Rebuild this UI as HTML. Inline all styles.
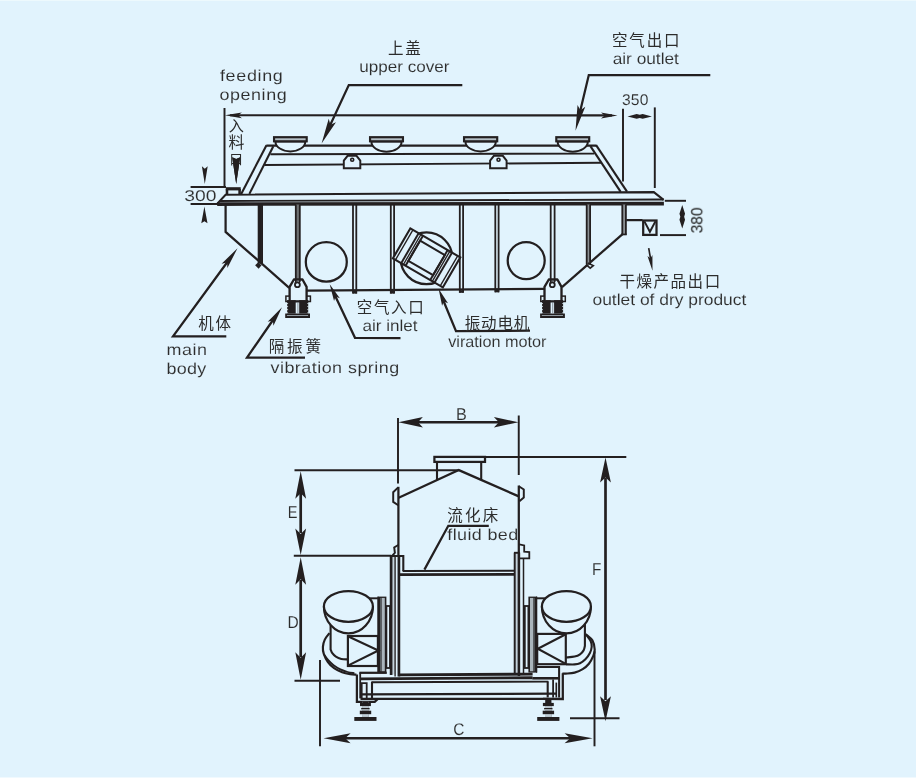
<!DOCTYPE html>
<html lang="en"><head><meta charset="utf-8"><title>Fluid bed dryer diagram</title>
<style>
html,body{margin:0;padding:0;background:#ffffff;}
body{width:922px;height:784px;overflow:hidden;font-family:"Liberation Sans",sans-serif;}
svg{display:block;}
</style></head><body>
<svg width="922" height="784" viewBox="0 0 922 784">
<rect x="0" y="0" width="916" height="777.5" fill="#e1f3fd"/>
<rect x="0" y="0" width="916" height="1" fill="#edf9fd"/>
<g fill="none" stroke-linecap="butt" stroke-linejoin="miter">
<path d="M230 115.3L612 115.4" stroke="#231f20" stroke-width="2.1"/>
<path d="M224.9 115.3L241.9 112.4L238.16 115.3L241.9 118.2 Z" fill="#231f20"/>
<path d="M617.5 115.5L601 118.4L604.63 115.5L601 112.6 Z" fill="#231f20"/>
<path d="M224.5 108L224.5 186.4" stroke="#231f20" stroke-width="1.95"/>
<path d="M623 108.7L623 181.6" stroke="#231f20" stroke-width="1.95"/>
<path d="M654.8 107.4L654.8 188" stroke="#231f20" stroke-width="1.95"/>
<path d="M627.5 116.4L636.7 114L639.7 114.8L642.7 114L651.9 116.4L642.7 118.8L639.7 118L636.7 118.8 Z" fill="#231f20"/>
<path d="M462.3 85.1L348.8 85.1L326.5 133" fill="none" stroke="#231f20" stroke-width="2.25"/>
<path d="M321.6 143.6L328.72 118.79L330.42 124.64L335.98 122.16 Z" fill="#231f20"/>
<path d="M710.3 75L588.8 75L579.5 114" fill="none" stroke="#231f20" stroke-width="2.25"/>
<path d="M575.5 130.7L577.53 104.97L580.36 110.36L585.31 106.83 Z" fill="#231f20"/>
<path d="M190.6 187L226 187" stroke="#231f20" stroke-width="1.95"/>
<path d="M190.6 204L218 204" stroke="#231f20" stroke-width="1.95"/>
<path d="M204.8 183.9L201.9 166.2L204.8 168.86L207.7 166.2 Z" fill="#231f20"/>
<path d="M204.4 206.4L207.5 223.2L204.4 221.18L201.3 223.2 Z" fill="#231f20"/>
<path d="M266.3 145.6L596.4 145.6" stroke="#231f20" stroke-width="2.1"/>
<path d="M270.4 154.3L594.2 153.6" stroke="#231f20" stroke-width="1.95"/>
<path d="M264.3 165L601 162.8" stroke="#231f20" stroke-width="1.95"/>
<path d="M266.5 145.2L241.2 193.9" stroke="#231f20" stroke-width="2.1"/>
<path d="M273.3 146.2L249.4 193.9" stroke="#231f20" stroke-width="2.1"/>
<path d="M596.1 145.2L627 191.7" stroke="#231f20" stroke-width="2.1"/>
<path d="M590.4 146.2L620.7 191.9" stroke="#231f20" stroke-width="2.1"/>
<path d="M275.35 141.5A15.03 10.2 0 0 0 305.4 141.5Z" fill="#e1f3fd" stroke="#231f20" stroke-width="1.95"/>
<rect x="274.05" y="137.2" width="32.65" height="4.1" fill="#b4bfc6" stroke="#231f20" stroke-width="2.17"/>
<path d="M371.35 141.5A15.15 10.2 0 0 0 401.65 141.5Z" fill="#e1f3fd" stroke="#231f20" stroke-width="1.95"/>
<rect x="370.05" y="137.2" width="32.9" height="4.1" fill="#b4bfc6" stroke="#231f20" stroke-width="2.17"/>
<path d="M465.35 141.5A15.28 10.2 0 0 0 495.9 141.5Z" fill="#e1f3fd" stroke="#231f20" stroke-width="1.95"/>
<rect x="464.05" y="137.2" width="33.15" height="4.1" fill="#b4bfc6" stroke="#231f20" stroke-width="2.17"/>
<path d="M557.6 141.5A15.15 10.2 0 0 0 587.9 141.5Z" fill="#e1f3fd" stroke="#231f20" stroke-width="1.95"/>
<rect x="556.3" y="137.2" width="32.9" height="4.1" fill="#b4bfc6" stroke="#231f20" stroke-width="2.17"/>
<path d="M343.8 168.3L343.8 160.6L347.6 155.8L356.5 155.8L360.3 160.6L360.3 168.3Z" fill="#e1f3fd" stroke="#231f20" stroke-width="1.95"/>
<circle cx="352.2" cy="159.7" r="1.5" fill="none" stroke="#231f20" stroke-width="1.65"/>
<path d="M490.1 168.3L490.1 160.6L493.9 155.8L502.8 155.8L506.6 160.6L506.6 168.3Z" fill="#e1f3fd" stroke="#231f20" stroke-width="1.95"/>
<circle cx="498.5" cy="159.7" r="1.5" fill="none" stroke="#231f20" stroke-width="1.65"/>
<rect x="225.8" y="187.2" width="14.9" height="3.2" fill="#231f20"/>
<path d="M227 189L227 194.4" stroke="#231f20" stroke-width="2.55"/>
<path d="M239.6 189L239.6 194.4" stroke="#231f20" stroke-width="2.55"/>
<path d="M236.2 183.9L232.2 157.3L236.2 158.9L240.2 157.3 Z" fill="#231f20"/>
<path d="M217.3 203.6L225.6 194.7L653.8 192.1L663.6 199.8" fill="none" stroke="#231f20" stroke-width="2.1"/>
<path d="M219.6 201L663.6 199.5" stroke="#231f20" stroke-width="1.8"/>
<path d="M217.2 204.1L663.9 203.6" stroke="#231f20" stroke-width="3.63"/>
<path d="M225.6 205L225.6 231.9L289.2 287.8" fill="none" stroke="#231f20" stroke-width="2.25"/>
<path d="M306 290.7L545 288.9" stroke="#231f20" stroke-width="2.25"/>
<path d="M562 287.2L624 232.8" fill="none" stroke="#231f20" stroke-width="2.25"/>
<rect x="258.8" y="204.5" width="3.1" height="59.1" fill="#231f20"/>
<path d="M258.6 204.5L258.6 263.6" stroke="#231f20" stroke-width="1.8"/>
<path d="M262.1 204.5L262.1 263.6" stroke="#231f20" stroke-width="1.8"/>
<rect x="296" y="204.5" width="3.6" height="77.5" fill="#6e7173"/>
<path d="M295.8 204.5L295.8 282" stroke="#231f20" stroke-width="1.8"/>
<path d="M299.8 204.5L299.8 282" stroke="#231f20" stroke-width="1.8"/>
<path d="M353 204.5L353 293.6" stroke="#231f20" stroke-width="1.8"/>
<path d="M356.3 204.5L356.3 293.6" stroke="#231f20" stroke-width="1.8"/>
<rect x="352.6" y="291" width="4.1" height="2.6" fill="#231f20"/>
<path d="M390.8 204.5L390.8 293.6" stroke="#231f20" stroke-width="1.8"/>
<path d="M394.1 204.5L394.1 293.6" stroke="#231f20" stroke-width="1.8"/>
<rect x="390.4" y="291" width="4.1" height="2.6" fill="#231f20"/>
<path d="M459.8 204.5L459.8 292.8" stroke="#231f20" stroke-width="1.8"/>
<path d="M463.1 204.5L463.1 292.8" stroke="#231f20" stroke-width="1.8"/>
<rect x="459.4" y="290.2" width="4.1" height="2.6" fill="#231f20"/>
<path d="M495.3 204.5L495.3 292.3" stroke="#231f20" stroke-width="1.8"/>
<path d="M498.6 204.5L498.6 292.3" stroke="#231f20" stroke-width="1.8"/>
<rect x="494.9" y="289.7" width="4.1" height="2.6" fill="#231f20"/>
<path d="M550.7 204.5L550.7 282" stroke="#231f20" stroke-width="1.8"/>
<path d="M554.6 204.5L554.6 282" stroke="#231f20" stroke-width="1.8"/>
<rect x="586.9" y="204.5" width="3" height="60" fill="#8b9094"/>
<path d="M586.7 204.5L586.7 264.5" stroke="#231f20" stroke-width="1.8"/>
<path d="M590.1 204.5L590.1 264.5" stroke="#231f20" stroke-width="1.8"/>
<rect x="622.5" y="204.5" width="3.2" height="30.3" fill="#8b9094"/>
<path d="M622.3 204.5L622.3 234.8" stroke="#231f20" stroke-width="1.8"/>
<path d="M625.9 204.5L625.9 234.8" stroke="#231f20" stroke-width="1.8"/>
<rect x="621.5" y="233.6" width="5.2" height="1.7" fill="#231f20"/>
<path d="M255.1 265.3L258 262.5L261.6 265.2L258.6 268.7Z" fill="#231f20"/>
<path d="M587.8 263L593.3 265.6L590.2 268.2L586.2 264.6" fill="none" stroke="#231f20" stroke-width="1.65"/>
<ellipse cx="326.3" cy="261.9" rx="20.5" ry="19.7" fill="none" stroke="#231f20" stroke-width="2.25"/>
<circle cx="526.2" cy="260.6" r="18.5" fill="none" stroke="#231f20" stroke-width="2.25"/>
<circle cx="426.5" cy="258.3" r="25.9" fill="none" stroke="#231f20" stroke-width="2.25"/>
<g transform="translate(426.6 257.9) rotate(30.2)">
<rect x="-28.9" y="-17.35" width="57.8" height="34.7" fill="#e1f3fd" stroke="#231f20" stroke-width="2.1"/>
<path d="M-25.9 -17.35L-25.9 17.35" stroke="#231f20" stroke-width="1.35"/>
<path d="M25.9 -17.35L25.9 17.35" stroke="#231f20" stroke-width="1.35"/>
<path d="M-19.3 -17.35L-19.3 17.35" stroke="#231f20" stroke-width="1.95"/>
<path d="M19.3 -17.35L19.3 17.35" stroke="#231f20" stroke-width="1.95"/>
<path d="M-16.7 -17.35L-16.7 17.35" stroke="#231f20" stroke-width="1.35"/>
<path d="M16.7 -17.35L16.7 17.35" stroke="#231f20" stroke-width="1.35"/>
<path d="M-14.3 -17.35L-14.3 17.35" stroke="#231f20" stroke-width="1.95"/>
<path d="M14.3 -17.35L14.3 17.35" stroke="#231f20" stroke-width="1.95"/>
<rect x="-14.3" y="-11.65" width="28.6" height="23.3" fill="none" stroke="#231f20" stroke-width="1.95"/>
</g>
<path d="M289.6 300.3L289.6 286.9L293.9 279.5L302.5 279.5L306.6 286.9L306.6 300.3" fill="#e1f3fd" stroke="#231f20" stroke-width="2.33" stroke-linejoin="round"/>
<path d="M295.8 279.2L295.8 282.1" stroke="#231f20" stroke-width="1.65"/>
<path d="M299.8 279.2L299.8 282.1" stroke="#231f20" stroke-width="1.65"/>
<circle cx="297.4" cy="284.7" r="2.45" fill="#e1f3fd" stroke="#231f20" stroke-width="1.8"/>
<rect x="285.9" y="296.1" width="3.4" height="5.4" fill="#e1f3fd" stroke="#231f20" stroke-width="1.5"/>
<rect x="307" y="296.1" width="3.4" height="5.4" fill="#e1f3fd" stroke="#231f20" stroke-width="1.5"/>
<rect x="287.2" y="300.2" width="21" height="2.3" fill="#231f20"/>
<rect x="287.2" y="300.2" width="8.5" height="13.4" fill="#231f20"/>
<rect x="299.2" y="300.2" width="9" height="13.4" fill="#231f20"/>
<rect x="297.65" y="302.5" width="0.6" height="10.5" fill="#4a4d50"/>
<rect x="286.9" y="303" width="1.2" height="0.75" fill="#e1f3fd"/>
<rect x="307.3" y="303" width="1.2" height="0.75" fill="#e1f3fd"/>
<rect x="286.9" y="306.15" width="1.2" height="0.75" fill="#e1f3fd"/>
<rect x="307.3" y="306.15" width="1.2" height="0.75" fill="#e1f3fd"/>
<rect x="286.9" y="309.3" width="1.2" height="0.75" fill="#e1f3fd"/>
<rect x="307.3" y="309.3" width="1.2" height="0.75" fill="#e1f3fd"/>
<rect x="286.9" y="312.45" width="1.2" height="0.75" fill="#e1f3fd"/>
<rect x="307.3" y="312.45" width="1.2" height="0.75" fill="#e1f3fd"/>
<rect x="285.2" y="313.5" width="24.8" height="4.5" fill="#231f20"/>
<rect x="286.9" y="315.2" width="21.2" height="0.75" fill="#b9c7cf"/>
<path d="M544.5 300.3L544.5 286.9L548.8 279.5L557.4 279.5L561.5 286.9L561.5 300.3" fill="#e1f3fd" stroke="#231f20" stroke-width="2.33" stroke-linejoin="round"/>
<path d="M550.7 279.2L550.7 282.1" stroke="#231f20" stroke-width="1.65"/>
<path d="M554.7 279.2L554.7 282.1" stroke="#231f20" stroke-width="1.65"/>
<circle cx="552.3" cy="284.7" r="2.45" fill="#e1f3fd" stroke="#231f20" stroke-width="1.8"/>
<rect x="540.8" y="296.1" width="3.4" height="5.4" fill="#e1f3fd" stroke="#231f20" stroke-width="1.5"/>
<rect x="561.9" y="296.1" width="3.4" height="5.4" fill="#e1f3fd" stroke="#231f20" stroke-width="1.5"/>
<rect x="542.1" y="300.2" width="21" height="2.3" fill="#231f20"/>
<rect x="542.1" y="300.2" width="8.5" height="13.4" fill="#231f20"/>
<rect x="554.1" y="300.2" width="9" height="13.4" fill="#231f20"/>
<rect x="552.55" y="302.5" width="0.6" height="10.5" fill="#4a4d50"/>
<rect x="541.8" y="303" width="1.2" height="0.75" fill="#e1f3fd"/>
<rect x="562.2" y="303" width="1.2" height="0.75" fill="#e1f3fd"/>
<rect x="541.8" y="306.15" width="1.2" height="0.75" fill="#e1f3fd"/>
<rect x="562.2" y="306.15" width="1.2" height="0.75" fill="#e1f3fd"/>
<rect x="541.8" y="309.3" width="1.2" height="0.75" fill="#e1f3fd"/>
<rect x="562.2" y="309.3" width="1.2" height="0.75" fill="#e1f3fd"/>
<rect x="541.8" y="312.45" width="1.2" height="0.75" fill="#e1f3fd"/>
<rect x="562.2" y="312.45" width="1.2" height="0.75" fill="#e1f3fd"/>
<rect x="540.1" y="313.5" width="24.8" height="4.5" fill="#231f20"/>
<rect x="541.8" y="315.2" width="21.2" height="0.75" fill="#b9c7cf"/>
<path d="M626.3 220.1L642.5 220.1" stroke="#231f20" stroke-width="2.25"/>
<rect x="643.2" y="220.5" width="13.3" height="14.4" fill="none" stroke="#231f20" stroke-width="2.25"/>
<path d="M644.4 221.4L649.9 231.8L655.4 221.4" fill="none" stroke="#231f20" stroke-width="1.95"/>
<path d="M664.8 200.8L686 200.8" stroke="#231f20" stroke-width="1.95"/>
<path d="M660 235.1L686 235.1" stroke="#231f20" stroke-width="1.95"/>
<path d="M682.25 204.9L679.45 213.7L680.35 216.7L679.45 219.7L682.25 228.5L685.05 219.7L684.15 216.7L685.05 213.7 Z" fill="#231f20"/>
<path d="M648.7 248.1L650.6 259" stroke="#231f20" stroke-width="1.65"/>
<path d="M652.5 270.8L647.48 255.93L650.45 258.57L652.41 255.1 Z" fill="#231f20"/>
<path d="M226.3 336.3L173 336.3L228.5 260.5" fill="none" stroke="#231f20" stroke-width="2.25"/>
<path d="M237.5 248.2L227.41 268.08L227.1 262.4L221.6 263.82 Z" fill="#231f20"/>
<path d="M305 357.6L247 357.6L273 320" fill="none" stroke="#231f20" stroke-width="2.25"/>
<path d="M282 307.3L273.45 325.72L272.86 320.43L267.7 321.72 Z" fill="#231f20"/>
<path d="M400.5 338L355 337.8L335 295.6" fill="none" stroke="#231f20" stroke-width="2.25"/>
<path d="M329.7 284.3L339.86 298.3L335.51 296.59L334.07 301.04 Z" fill="#231f20"/>
<path d="M530 330.6L456 331.2L442.5 298.5" fill="none" stroke="#231f20" stroke-width="2.25"/>
<path d="M438.6 288.8L448.01 303.31L443.76 301.38L442.09 305.74 Z" fill="#231f20"/>
<path d="M398 418L398 483.5" stroke="#231f20" stroke-width="1.95"/>
<path d="M518.75 415.5L518.75 475" stroke="#231f20" stroke-width="1.95"/>
<path d="M418 422.3L499 422.3" stroke="#231f20" stroke-width="2.55"/>
<path d="M398.4 422.3L422.9 417.1L418 422.3L422.9 427.5 Z" fill="#231f20"/>
<path d="M518.4 422.3L493.9 427.5L498.8 422.3L493.9 417.1 Z" fill="#231f20"/>
<path d="M485.5 457L626.3 457" stroke="#231f20" stroke-width="2.1"/>
<path d="M570 718.3L619.5 718.3" stroke="#231f20" stroke-width="2.1"/>
<path d="M605.5 478L605.5 700" stroke="#231f20" stroke-width="2.7"/>
<path d="M605.5 457.6L610.9 482.6L605.5 477.6L600.1 482.6 Z" fill="#231f20"/>
<path d="M605.5 721.3L600.1 696.3L605.5 701.3L610.9 696.3 Z" fill="#231f20"/>
<path d="M294.5 470.3L458.7 470.3" stroke="#231f20" stroke-width="2.1"/>
<path d="M293.8 555.8L391 555.8" stroke="#231f20" stroke-width="2.1"/>
<path d="M294.5 680.8L340 680.8" stroke="#231f20" stroke-width="2.1"/>
<path d="M300.7 493L300.7 533" stroke="#231f20" stroke-width="2.7"/>
<path d="M300.7 471.2L306.1 498.7L300.7 493.2L295.3 498.7 Z" fill="#231f20"/>
<path d="M300.7 555.1L295.3 528.6L300.7 533.9L306.1 528.6 Z" fill="#231f20"/>
<path d="M300.7 580L300.7 657" stroke="#231f20" stroke-width="2.7"/>
<path d="M300.7 557.3L306.1 584.8L300.7 579.3L295.3 584.8 Z" fill="#231f20"/>
<path d="M300.7 679.7L295.3 652.2L300.7 657.7L306.1 652.2 Z" fill="#231f20"/>
<path d="M320 660L320 746.3" stroke="#231f20" stroke-width="1.95"/>
<path d="M594.5 651.3L594.5 746.3" stroke="#231f20" stroke-width="1.95"/>
<path d="M345 738.3L570 738.3" stroke="#231f20" stroke-width="2.62"/>
<path d="M323.6 738.3L350.6 733.3L345.2 738.3L350.6 743.3 Z" fill="#231f20"/>
<path d="M592.6 738.3L564.6 743.3L570.2 738.3L564.6 733.3 Z" fill="#231f20"/>
<rect x="434.4" y="456.9" width="50.6" height="5" fill="none" stroke="#231f20" stroke-width="2.25"/>
<path d="M437 462L437 480.2" stroke="#231f20" stroke-width="2.1"/>
<path d="M481.2 462L481.2 480" stroke="#231f20" stroke-width="2.1"/>
<path d="M398.7 497.8L458.8 470.1L518.8 496.4" fill="none" stroke="#231f20" stroke-width="2.25"/>
<path d="M398.4 486.8L398.4 557" stroke="#231f20" stroke-width="2.25"/>
<path d="M518.8 485.5L518.8 553.5" stroke="#231f20" stroke-width="2.25"/>
<path d="M398.2 487.4L393.2 492.2L393.2 501.9L398.2 505.2" fill="none" stroke="#231f20" stroke-width="1.95"/>
<path d="M518.8 486.2L523.8 489.5L523.8 497.5L519.4 501.3" fill="none" stroke="#231f20" stroke-width="1.95"/>
<path d="M398.2 545L394.2 547.4L394.9 552.8L392 556" fill="none" stroke="#231f20" stroke-width="1.95"/>
<path d="M519.2 544.3L524.2 545.4L524.2 551.6L529.3 552L529.3 558.4L519.4 558.4" fill="none" stroke="#231f20" stroke-width="1.8"/>
<path d="M488.8 525.8L448.3 525.8L424.4 569.6" fill="none" stroke="#231f20" stroke-width="2.25"/>
<rect x="391.5" y="556" width="3.6" height="118.5" fill="#c5d3dc"/>
<path d="M391.1 555.8L391.1 675" stroke="#231f20" stroke-width="2.7"/>
<path d="M395.1 556.5L395.1 676.5" stroke="#231f20" stroke-width="1.35"/>
<path d="M398.9 556L398.9 676.5" stroke="#231f20" stroke-width="2.7"/>
<path d="M390.2 556L403.3 556L403.3 571" fill="none" stroke="#231f20" stroke-width="2.1"/>
<path d="M402.6 571L514.5 570.8" stroke="#231f20" stroke-width="1.95"/>
<path d="M399 574.6L514.5 574.4" stroke="#231f20" stroke-width="2.85"/>
<rect x="515" y="553" width="3.6" height="121" fill="#c5d3dc"/>
<path d="M514.7 552.6L514.7 674" stroke="#231f20" stroke-width="1.95"/>
<path d="M518.9 552.6L518.9 676" stroke="#231f20" stroke-width="2.55"/>
<path d="M523.5 558.4L523.5 674" stroke="#231f20" stroke-width="1.5"/>
<path d="M514 552.8L519.8 552.8" stroke="#231f20" stroke-width="1.95"/>
<path d="M329.4 633.2C328.63 634.27 325.88 637.33 324.8 639.6C323.72 641.87 323.07 644.42 322.9 646.8C322.73 649.18 322.97 651.37 323.8 653.9C324.63 656.43 326.18 659.62 327.9 662C329.62 664.38 331.73 666.5 334.1 668.2C336.47 669.9 339.42 671.22 342.1 672.2C344.78 673.18 347.82 673.7 350.2 674.1C352.58 674.5 355.37 674.52 356.4 674.6" fill="none" stroke="#231f20" stroke-width="2.17"/>
<path d="M324.2 654.8C324.88 655.7 326.73 658.47 328.3 660.2C329.87 661.93 331.58 663.67 333.6 665.2C335.62 666.73 338.07 668.27 340.4 669.4C342.73 670.53 345.27 671.37 347.6 672C349.93 672.63 353.27 673 354.4 673.2" fill="none" stroke="#231f20" stroke-width="1.8"/>
<path d="M330.6 625L330.6 649.5C330.88 650.12 331.42 652 332.3 653.2C333.18 654.4 334.4 655.75 335.9 656.7C337.4 657.65 339.32 658.45 341.3 658.9C343.28 659.35 346.72 659.32 347.8 659.4" fill="none" stroke="#231f20" stroke-width="2.1"/>
<path d="M323.9 606.4A24.5 27 0 0 0 372.9 606.4" fill="#e1f3fd" stroke="#231f20" stroke-width="2.17"/>
<ellipse cx="348.4" cy="606.4" rx="24.5" ry="15.4" fill="#e1f3fd" stroke="#231f20" stroke-width="2.25"/>
<path d="M369.4 598.3L377.9 598.3" stroke="#231f20" stroke-width="1.95"/>
<rect x="377.7" y="596.6" width="8.7" height="76" fill="#231f20"/>
<rect x="381.6" y="597.9" width="3.2" height="73.4" fill="#aab5bc"/>
<rect x="380.1" y="597.9" width="1.5" height="73.4" fill="#5d6367"/>
<rect x="386.4" y="606" width="3.6" height="62" fill="none" stroke="#231f20" stroke-width="1.8"/>
<rect x="347.9" y="636" width="30" height="30" fill="#e1f3fd" stroke="#231f20" stroke-width="2.17"/>
<path d="M348.4 636.6L378.4 650.5L348.4 665.4" fill="none" stroke="#231f20" stroke-width="2.17"/>
<rect x="377.4" y="596.6" width="1.2" height="76" fill="#231f20"/>
<path d="M585.6 634C586.45 635.2 589.68 639.07 590.7 641.2C591.72 643.33 591.83 644.83 591.7 646.8C591.57 648.77 590.95 650.92 589.9 653C588.85 655.08 587.05 657.6 585.4 659.3C583.75 661 581.8 662.35 580 663.2C578.2 664.05 576.93 664.22 574.6 664.4C572.27 664.58 567.43 664.32 566 664.3" fill="none" stroke="#231f20" stroke-width="2.1"/>
<path d="M585.8 634.2C586.9 635.23 590.92 637.85 592.4 640.4C593.88 642.95 594.53 646.95 594.7 649.5C594.87 652.05 594.37 653.33 593.4 655.7C592.43 658.07 590.68 661.47 588.9 663.7C587.12 665.93 585.08 667.62 582.7 669.1C580.32 670.58 577.43 671.85 574.6 672.6C571.77 673.35 567.73 673.42 565.7 673.6C563.67 673.78 562.95 673.68 562.4 673.7" fill="none" stroke="#231f20" stroke-width="2.17"/>
<path d="M584.9 624L584.9 645.9C584.68 646.65 584.42 648.98 583.6 650.4C582.78 651.82 581.5 653.37 580 654.4C578.5 655.43 576.93 656.08 574.6 656.6C572.27 657.12 567.43 657.35 566 657.5" fill="none" stroke="#231f20" stroke-width="2.1"/>
<path d="M590.9 606.4A24.5 27 0 0 1 541.9 606.4" fill="#e1f3fd" stroke="#231f20" stroke-width="2.17"/>
<ellipse cx="566.4" cy="606.4" rx="24.5" ry="15.4" fill="#e1f3fd" stroke="#231f20" stroke-width="2.25"/>
<path d="M545.4 598.3L536.9 598.3" stroke="#231f20" stroke-width="1.95"/>
<rect x="528.4" y="596.6" width="8.7" height="76" fill="#231f20"/>
<rect x="530" y="597.9" width="3.2" height="73.4" fill="#aab5bc"/>
<rect x="533.2" y="597.9" width="1.5" height="73.4" fill="#5d6367"/>
<rect x="524.8" y="606" width="3.6" height="62" fill="none" stroke="#231f20" stroke-width="1.8"/>
<rect x="537.2" y="633.9" width="28.6" height="30.3" fill="#e1f3fd" stroke="#231f20" stroke-width="2.17"/>
<path d="M565.3 634.5L537.8 648.7L565.3 663.6" fill="none" stroke="#231f20" stroke-width="2.17"/>
<rect x="536" y="596.6" width="1.2" height="76" fill="#231f20"/>
<path d="M356.9 674.4L356.9 701.8L374.7 701.8L377.6 699.2" fill="none" stroke="#231f20" stroke-width="2.25"/>
<path d="M359.4 672.8L386.8 672.8" stroke="#231f20" stroke-width="2.25"/>
<path d="M360.2 672.5L360.2 698.4" stroke="#231f20" stroke-width="1.8"/>
<path d="M361.7 698L361.7 683.1L366.7 683.1L366.7 698" fill="none" stroke="#231f20" stroke-width="1.8"/>
<path d="M372 681.8L372 698.6" stroke="#231f20" stroke-width="2.1"/>
<rect x="362.1" y="701.6" width="6.6" height="15.9" fill="#6a7075"/>
<rect x="362.6" y="701.6" width="5.6" height="1.4" fill="#231f20"/>
<rect x="360" y="702.9" width="10.9" height="3.2" fill="#231f20"/>
<rect x="362.1" y="706.3" width="6.6" height="1.6" fill="#d4e2ea"/>
<rect x="361.2" y="707.9" width="8.4" height="1.5" fill="#231f20"/>
<rect x="362.1" y="709.4" width="6.6" height="1.3" fill="#d4e2ea"/>
<rect x="359.8" y="710.7" width="11.4" height="3.5" fill="#231f20"/>
<rect x="362.1" y="714.2" width="6.6" height="2.7" fill="#c0ced6"/>
<rect x="354.3" y="717" width="22.2" height="3.9" fill="#231f20"/>
<path d="M562.8 673.2L562.8 699L543 698.9" fill="none" stroke="#231f20" stroke-width="2.25"/>
<path d="M536.6 667.1L559.1 667.1L559.1 697.6" fill="none" stroke="#231f20" stroke-width="2.03"/>
<path d="M532.4 678.3L559.2 678.3" stroke="#231f20" stroke-width="2.55"/>
<path d="M547.7 681.4L547.7 697.4" stroke="#231f20" stroke-width="2.1"/>
<path d="M553.1 679.4L553.1 697.4" stroke="#231f20" stroke-width="1.8"/>
<path d="M556.3 682.6L556.3 697.4" stroke="#231f20" stroke-width="1.65"/>
<rect x="545" y="699.2" width="6.6" height="18.3" fill="#6a7075"/>
<rect x="545.5" y="699.2" width="5.6" height="3.8" fill="#231f20"/>
<rect x="542.9" y="702.9" width="10.9" height="3.2" fill="#231f20"/>
<rect x="545" y="706.3" width="6.6" height="1.6" fill="#d4e2ea"/>
<rect x="544.1" y="707.9" width="8.4" height="1.5" fill="#231f20"/>
<rect x="545" y="709.4" width="6.6" height="1.3" fill="#d4e2ea"/>
<rect x="542.7" y="710.7" width="11.4" height="3.5" fill="#231f20"/>
<rect x="545" y="714.2" width="6.6" height="2.7" fill="#c0ced6"/>
<rect x="537.2" y="717" width="22.2" height="3.9" fill="#231f20"/>
<path d="M398.6 674.9L532.6 674.1" stroke="#231f20" stroke-width="2.85"/>
<path d="M360.2 678.8L532.6 677.7" stroke="#231f20" stroke-width="2.85"/>
<path d="M371.5 682.3L548.3 681.6" stroke="#231f20" stroke-width="1.95"/>
<path d="M360.5 694.3L557 693.6" stroke="#231f20" stroke-width="2.25"/>
<path d="M360.5 698.9L562.9 698.9" stroke="#231f20" stroke-width="2.25"/>
</g>
<g opacity="0.999" style="font-kerning:none;text-rendering:geometricPrecision" font-family="'Liberation Sans',sans-serif" stroke="#e1f3fd" stroke-width="0.1">
<text transform="scale(1.1200 1)" x="196.38" y="80.6" font-size="16" fill="#2c2c2c" letter-spacing="0.61">feeding</text>
<text transform="scale(1.1200 1)" x="195.94" y="99.6" font-size="16" fill="#2c2c2c" letter-spacing="0.51">opening</text>
<text transform="scale(1.0675 1)" x="336.58" y="72" font-size="16" fill="#2c2c2c">upper cover</text>
<text transform="scale(1.0797 1)" x="567.42" y="64" font-size="16" fill="#2c2c2c">air outlet</text>
<text transform="scale(1.0000 1)" x="622.01" y="105.2" font-size="15.6" fill="#2c2c2c" letter-spacing="0.19">350</text>
<text transform="scale(1.2367 1)" x="149" y="201.2" font-size="15.6" fill="#2c2c2c">300</text>
<text transform="scale(1.0880 1)" x="544.55" y="305.4" font-size="16" fill="#2c2c2c">outlet of dry product</text>
<text transform="scale(1.0134 1)" x="442.3" y="347" font-size="16" fill="#2c2c2c">viration motor</text>
<text transform="scale(1.0673 1)" x="339.7" y="331.2" font-size="16" fill="#2c2c2c">air inlet</text>
<text transform="scale(1.1200 1)" x="148.67" y="354.9" font-size="16" fill="#2c2c2c" letter-spacing="0.51">main</text>
<text transform="scale(1.1200 1)" x="148.7" y="373.7" font-size="16" fill="#2c2c2c" letter-spacing="0.25">body</text>
<text transform="scale(1.1200 1)" x="241.55" y="372.5" font-size="16" fill="#2c2c2c" letter-spacing="0.42">vibration spring</text>
<text transform="scale(1.1200 1)" x="399.42" y="539.5" font-size="16" fill="#2c2c2c" letter-spacing="0.34">fluid bed</text>
<text transform="scale(0.9505 1)" x="479.82" y="420" font-size="17" fill="#2c2c2c">B</text>
<text transform="scale(0.8574 1)" x="335.67" y="518.1" font-size="17" fill="#2c2c2c">E</text>
<text transform="scale(0.9137 1)" x="314.79" y="627.7" font-size="17" fill="#2c2c2c">D</text>
<text transform="scale(0.9026 1)" x="655.8" y="575" font-size="17" fill="#2c2c2c">F</text>
<text transform="scale(0.9103 1)" x="497.89" y="734.7" font-size="17" fill="#2c2c2c">C</text>
<g transform="translate(702.3 232.8) rotate(-90)" stroke="none">
<text transform="scale(0.9740 1)" x="-0.61" y="0" font-size="16" fill="#202020">380</text>
</g>
</g>
<g font-family="'Liberation Sans','Noto Sans CJK SC',sans-serif" font-size="15.5" fill="#2c2c2c">
<text x="388.11 405.22" y="53.72">上盖</text>
<text x="612 629.31 646.63 663.95" y="45.69">空气出口</text>
<text x="198.29 215.46" y="328.8">机体</text>
<text x="268.65 287.05 305.44" y="351.63">隔振簧</text>
<text x="356.7 373.88 391.06 408.25" y="312.64">空气入口</text>
<text x="464.8 481.1 497.41 513.71" y="328.8">振动电机</text>
<text x="619.49 636.52 653.55 670.59 687.62 704.65" y="287.46">干燥产品出口</text>
<text x="447.28 465.02 482.75" y="521.12">流化床</text>
<text x="228.78" y="131.18" font-size="15.2">入</text>
<text x="228.42" y="148.27" font-size="16">料</text>
<text x="229.57" y="164.08" font-size="13.2">口</text>
</g>
<path d="M236.2 183.9L232.2 157.3L236.2 158.9L240.2 157.3Z" fill="#231f20"/>
</svg>
</body></html>
